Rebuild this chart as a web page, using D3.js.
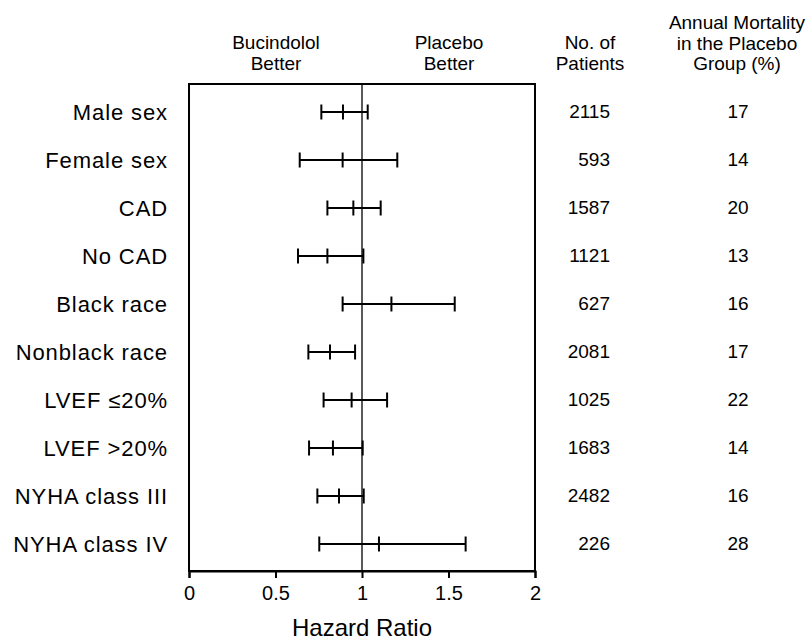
<!DOCTYPE html>
<html lang="en">
<head>
    <meta charset="UTF-8">
    <title>Hazard Ratio by Subgroup</title>
    <script src="https://d3js.org/d3.v7.min.js"></script>
    <style>
        body { margin: 0; background: #fff; }
        svg { display: block; font-family: "Liberation Sans", Arial, sans-serif; }
        .row-label { font-size: 22px; letter-spacing: 0.9px; text-anchor: end; }
        .head { font-size: 19px; text-anchor: middle; }
        .num { font-size: 19px; }
        .axis text { font-size: 20px; font-family: "Liberation Sans", Arial, sans-serif; }
    </style>
</head>
<body>
    <svg width="812" height="641"></svg>
    <script>
        // subgroups, top to bottom
        const groups = ["Male sex", "Female sex", "CAD", "No CAD", "Black race", "Nonblack race",
                        "LVEF \u226420%", "LVEF >20%", "NYHA class III", "NYHA class IV"];
        const hr    = [0.89, 0.888, 0.95, 0.80, 1.17, 0.815, 0.94, 0.832, 0.867, 1.098];
        const lower = [0.765, 0.64, 0.80, 0.63, 0.888, 0.69, 0.778, 0.694, 0.742, 0.753];
        const upper = [1.033, 1.204, 1.108, 1.008, 1.536, 0.96, 1.145, 1.004, 1.01, 1.599];
        const patients  = [2115, 593, 1587, 1121, 627, 2081, 1025, 1683, 2482, 226];
        const mortality = [17, 14, 20, 13, 16, 17, 22, 14, 16, 28];
        const xTicks = [0, 0.5, 1, 1.5, 2];

        const svg = d3.select("svg");
        const boxL = 189, boxR = 535, boxT = 84, boxB = 571;

        const x = d3.scaleLinear().domain([0, 2]).range([boxL, boxR]);
        const y = d3.scalePoint().domain(groups).range([112, 544]);

        // frame
        svg.append("rect")
            .attr("x", boxL).attr("y", boxT)
            .attr("width", boxR - boxL).attr("height", boxB - boxT)
            .attr("fill", "none").attr("stroke", "#000").attr("stroke-width", 2);

        // line of no effect
        svg.append("line")
            .attr("x1", x(1)).attr("x2", x(1))
            .attr("y1", boxT).attr("y2", boxB)
            .attr("stroke", "#000").attr("stroke-width", 1.3);

        // x axis
        const axis = svg.append("g")
            .attr("class", "axis")
            .attr("transform", `translate(0,${boxB})`)
            .call(d3.axisBottom(x).tickValues(xTicks).tickFormat(d3.format("")).tickSize(7).tickPadding(8));
        axis.select(".domain").attr("stroke-width", 2);
        axis.selectAll(".tick line").attr("stroke-width", 2);

        svg.append("text")
            .attr("x", x(1)).attr("y", 636)
            .attr("text-anchor", "middle")
            .style("font-size", "24px")
            .text("Hazard Ratio");

        // error bars
        const rows = svg.append("g").selectAll("g")
            .data(groups.map((g, i) => ({ g, i })))
            .join("g");

        rows.append("line")
            .attr("x1", d => x(lower[d.i])).attr("x2", d => x(upper[d.i]))
            .attr("y1", d => y(d.g)).attr("y2", d => y(d.g))
            .attr("stroke", "#000").attr("stroke-width", 2);

        [lower, hr, upper].forEach(arr => {
            rows.append("line")
                .attr("x1", d => x(arr[d.i])).attr("x2", d => x(arr[d.i]))
                .attr("y1", d => y(d.g) - 7.5).attr("y2", d => y(d.g) + 7.5)
                .attr("stroke", "#000").attr("stroke-width", 2);
        });

        rows.append("text")
            .attr("class", "row-label")
            .attr("x", 168).attr("y", d => y(d.g) + 8)
            .text(d => d.g);

        rows.append("text")
            .attr("class", "num")
            .attr("text-anchor", "end")
            .attr("x", 610).attr("y", d => y(d.g) + 6)
            .text(d => patients[d.i]);

        rows.append("text")
            .attr("class", "num")
            .attr("text-anchor", "middle")
            .attr("x", 738).attr("y", d => y(d.g) + 6)
            .text(d => mortality[d.i]);

        // column headers
        const heads = [
            { x: 276, lines: ["Bucindolol", "Better"], y0: 49 },
            { x: 449, lines: ["Placebo", "Better"], y0: 49 },
            { x: 590, lines: ["No. of", "Patients"], y0: 49 },
            { x: 737, lines: ["Annual Mortality", "in the Placebo", "Group (%)"], y0: 29 }
        ];
        heads.forEach(h => {
            h.lines.forEach((t, k) => {
                svg.append("text").attr("class", "head")
                    .attr("x", h.x).attr("y", h.y0 + k * 20.5)
                    .text(t);
            });
        });
    </script>
</body>
</html>
